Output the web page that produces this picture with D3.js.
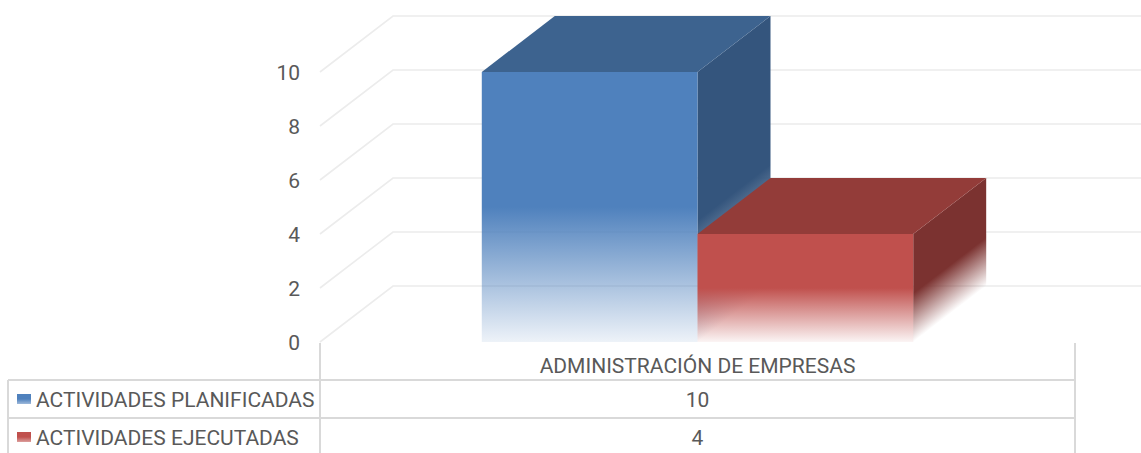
<!DOCTYPE html>
<html>
<head>
<meta charset="utf-8">
<script src="https://cdn.jsdelivr.net/npm/d3@7"></script>
<style>
  html, body { margin: 0; padding: 0; background: #fff; }
  #chart { width: 1141px; height: 453px; }
  text { font-family: Roboto, "Noto Sans", sans-serif; fill: #595959; }
</style>
</head>
<body>
<div id="chart"></div>
<script>
// Data
var categories = ["ADMINISTRACIÓN DE EMPRESAS"];
var seriesNames = ["ACTIVIDADES PLANIFICADAS", "ACTIVIDADES EJECUTADAS"];
var planificadas = [10];
var ejecutadas = [4];
var yTicks = [0, 2, 4, 6, 8, 10];

var seriesValues = [planificadas, ejecutadas];
var seriesColors = [
    { front: "#4F81BD", top: "#3D638F", side: "#34557D", key: "#4F81BD" },
    { front: "#C0504D", top: "#933C39", side: "#7B3230", key: "#C0504D" }
];

var W = 1141, H = 453;
var depthX = 73, depthY = -56;   // 3D offset of the back wall

var svg = d3.select("#chart").append("svg")
    .attr("width", W)
    .attr("height", H);

var defs = svg.append("defs");

// vertical fade used on the bar faces (solid top half, fading to white)
function fadeGradient(id, color, startFade, endOpacity) {
    var g = defs.append("linearGradient")
        .attr("id", id)
        .attr("x1", 0).attr("y1", 0)
        .attr("x2", 0).attr("y2", 1);
    g.append("stop").attr("offset", 0).attr("stop-color", color);
    g.append("stop").attr("offset", startFade).attr("stop-color", color);
    g.append("stop").attr("offset", 1).attr("stop-color", color).attr("stop-opacity", endOpacity);
}
seriesColors.forEach(function(c, i) {
    fadeGradient("front" + i, c.front, 0.5, i === 0 ? 0.1 : 0.06);
    fadeGradient("side" + i, c.side, 0.55, 0);
    fadeGradient("key" + i, c.key, 0.5, 0.55);
});

// --- Scales ---
var y = d3.scaleLinear()
    .domain([0, 10])
    .range([342, 72]);

var x0 = d3.scaleBand()
    .domain(categories)
    .range([320, 1075])
    .paddingInner(0)
    .paddingOuter(0);

var x1 = d3.scaleBand()
    .domain(seriesNames)
    .range([0, x0.bandwidth()])
    .paddingInner(0)
    .paddingOuter(0.75);

// --- Grid lines: side wall diagonal + back wall horizontal ---
var grid = svg.append("g").attr("class", "grid");
grid.selectAll("path")
    .data(yTicks)
    .enter().append("path")
    .attr("fill", "none")
    .attr("stroke", "#ececec")
    .attr("stroke-width", 1.6)
    .attr("d", function(d) {
        var xf = x0.range()[0];
        return "M" + xf + "," + y(d) +
               "L" + (xf + depthX) + "," + (y(d) + depthY) +
               "L" + W + "," + (y(d) + depthY);
    });

// --- Y axis labels ---
svg.append("g").attr("class", "y-labels")
    .selectAll("text")
    .data(yTicks)
    .enter().append("text")
    .attr("x", 300)
    .attr("y", function(d) { return y(d); })
    .attr("dy", "0.36em")
    .attr("text-anchor", "end")
    .style("font-size", "21px")
    .text(function(d) { return d; });

// --- 3D columns ---
var bars = svg.append("g").attr("class", "bars");
var skewDeg = Math.atan2(depthY, depthX) * 180 / Math.PI;

seriesNames.forEach(function(name, si) {
    categories.forEach(function(cat, ci) {
        var v = seriesValues[si][ci];
        var xl = x0(cat) + x1(name);
        var bw = x1.bandwidth();
        var yt = y(v);
        var h = y(0) - yt;
        var g = bars.append("g");

        // side face (skewed rect so the fade follows the face)
        g.append("g")
            .attr("transform", "translate(" + (xl + bw) + "," + yt + ") skewY(" + skewDeg + ")")
            .append("rect")
            .attr("width", depthX)
            .attr("height", h)
            .attr("fill", "url(#side" + si + ")");

        // top face
        g.append("polygon")
            .attr("points", [
                [xl, yt], [xl + bw, yt],
                [xl + bw + depthX, yt + depthY], [xl + depthX, yt + depthY]
            ].map(function(p) { return p.join(","); }).join(" "))
            .attr("fill", seriesColors[si].top);

        // front face
        g.append("rect")
            .attr("x", xl)
            .attr("y", yt)
            .attr("width", bw)
            .attr("height", h)
            .attr("fill", "url(#front" + si + ")");
    });
});

// --- Data table ---
var rowTop = [343, 380, 418, 456];
var tableLeft = 8;
var plotLeft = x0.range()[0], plotRight = x0.range()[1];
var table = svg.append("g").attr("class", "table")
    .attr("stroke", "#d9d9d9")
    .attr("stroke-width", 2);

table.append("line").attr("x1", plotLeft).attr("x2", plotLeft).attr("y1", rowTop[0]).attr("y2", H);
table.append("line").attr("x1", plotRight).attr("x2", plotRight).attr("y1", rowTop[0]).attr("y2", H);
table.append("line").attr("x1", tableLeft).attr("x2", tableLeft).attr("y1", rowTop[1]).attr("y2", H);
[rowTop[1], rowTop[2], rowTop[3]].forEach(function(ry) {
    table.append("line").attr("x1", tableLeft).attr("x2", plotRight).attr("y1", ry).attr("y2", ry);
});

// header: category names
svg.append("g").selectAll("text")
    .data(categories)
    .enter().append("text")
    .attr("x", function(d) { return x0(d) + x0.bandwidth() / 2; })
    .attr("y", (rowTop[0] + rowTop[1]) / 2 + 4)
    .attr("dy", "0.36em")
    .attr("text-anchor", "middle")
    .style("font-size", "21px")
    .text(function(d) { return d; });

// series rows: legend key + name + values
seriesNames.forEach(function(name, si) {
    var cy = (rowTop[si + 1] + rowTop[si + 2]) / 2;
    svg.append("rect")
        .attr("x", 17)
        .attr("y", cy - 5)
        .attr("width", 14)
        .attr("height", 10)
        .attr("fill", "url(#key" + si + ")");
    svg.append("text")
        .attr("x", 36)
        .attr("y", cy)
        .attr("dy", "0.36em")
        .style("font-size", "21px")
        .text(name);
    svg.append("g").selectAll("text")
        .data(categories)
        .enter().append("text")
        .attr("x", function(d) { return x0(d) + x0.bandwidth() / 2; })
        .attr("y", cy)
        .attr("dy", "0.36em")
        .attr("text-anchor", "middle")
        .style("font-size", "21px")
        .text(function(d, ci) { return seriesValues[si][ci]; });
});
</script>
</body>
</html>
